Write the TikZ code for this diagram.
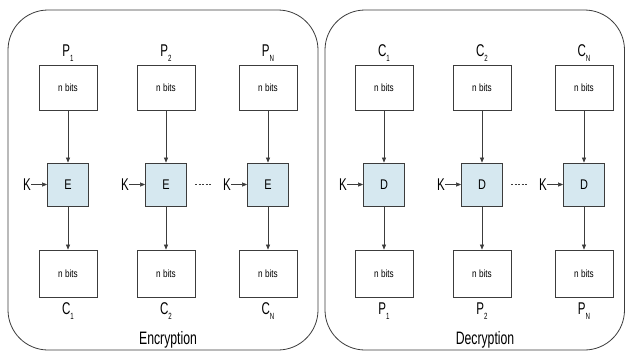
\documentclass[tikz,border=0pt]{standalone}
\usepackage{fontspec}
\setmainfont{Liberation Sans}[FakeStretch=0.78]
\newfontfamily\narrowfont{Liberation Sans}[FakeStretch=0.68]
\usetikzlibrary{arrows.meta,positioning}
\definecolor{lineg}{RGB}{60,60,60}
\definecolor{cipherblue}{RGB}{214,232,240}
\tikzset{
  panel/.style={draw=lineg,line width=0.8pt,rounded corners=40pt},
  bitbox/.style={draw=lineg,line width=0.8pt,fill=white,minimum width=58pt,minimum height=45pt,inner sep=0pt,font=\fontsize{10.5}{11}\selectfont},
  cbox/.style={draw=lineg,line width=0.8pt,fill=cipherblue,minimum width=41pt,minimum height=43pt,inner sep=0pt,font=\fontsize{14}{15}\selectfont},
  lbl/.style={inner sep=0pt,font=\narrowfont\fontsize{17}{18}\selectfont},
  klbl/.style={inner sep=0pt,font=\narrowfont\fontsize{17}{18}\selectfont},
  ttl/.style={inner sep=0pt,font=\narrowfont\fontsize{18}{19}\selectfont},
  arr/.style={draw=lineg,line width=0.6pt,-{Triangle[length=5pt,width=4pt]}},
  dots/.style={draw=lineg,line width=1pt,dash pattern=on 2.2pt off 1.3pt}
}
\newcommand{\sbx}[2]{#1\raisebox{-5pt}{\fontsize{9}{9}\selectfont #2}}
\begin{document}
\begin{tikzpicture}[x=1pt,y=-1pt]
\useasboundingbox (0,0) rectangle (626,354);
\fill[white] (0,0) rectangle (626,354);
% panels
\draw[panel] (8,10) rectangle (318,350);
\draw[panel] (325,10) rectangle (624.5,350);
% ---------- Encryption ----------
\foreach \n/\x/\tin/\tout in {a/68/1/1,b/166/2/2,c/268/N/N}{
  \node[bitbox] (t\n) at (\x,88) {n bits};
  \node[cbox] (e\n) at (\x,184.5) {E};
  \node[bitbox,minimum height=47pt] (u\n) at (\x,273.5) {n bits};
  \node[lbl] (pl\n) at (\x,53) {\sbx{P}{\tin}};
  \node[lbl] (cl\n) at (\x,311) {\sbx{C}{\tout}};
  \node[klbl,anchor=east] (k\n) at ([xshift=-16pt]e\n.west) {K};
  \draw[arr] (t\n) -- (e\n);
  \draw[arr] (e\n) -- (u\n);
  \draw[arr] (k\n.east) -- (e\n.west);
}
\coordinate (ed1) at (195,184.5);
\coordinate (ed2) at (211,184.5);
\draw[dots] (ed1) -- (ed2);
\node[ttl] (enc) at (168,340) {Encryption};
% ---------- Decryption ----------
\foreach \n/\x/\tin/\tout in {a/384/1/1,b/482/2/2,c/584/N/N}{
  \node[bitbox] (dt\n) at (\x,88) {n bits};
  \node[cbox] (d\n) at (\x,184.5) {D};
  \node[bitbox,minimum height=47pt] (du\n) at (\x,273.5) {n bits};
  \node[lbl] (dcl\n) at (\x,53) {\sbx{C}{\tin}};
  \node[lbl] (dpl\n) at (\x,311) {\sbx{P}{\tout}};
  \node[klbl,anchor=east] (dk\n) at ([xshift=-16pt]d\n.west) {K};
  \draw[arr] (dt\n) -- (d\n);
  \draw[arr] (d\n) -- (du\n);
  \draw[arr] (dk\n.east) -- (d\n.west);
}
\coordinate (dd1) at (511,184.5);
\coordinate (dd2) at (527,184.5);
\draw[dots] (dd1) -- (dd2);
\node[ttl] (dec) at (485,340) {Decryption};
\end{tikzpicture}
\end{document}
